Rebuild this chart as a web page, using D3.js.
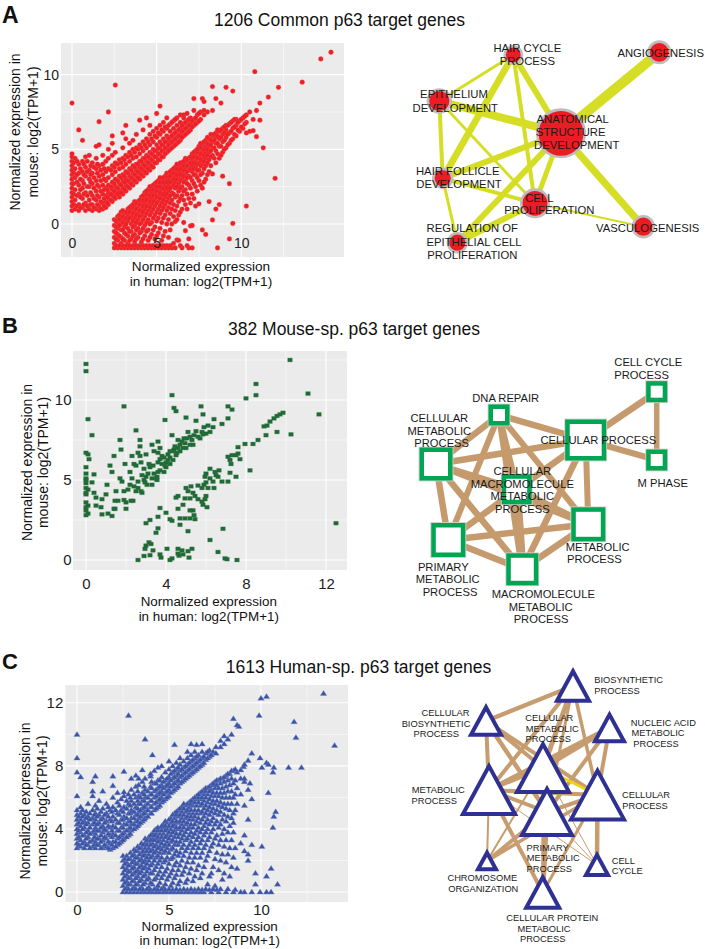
<!DOCTYPE html>
<html><head><meta charset="utf-8">
<script src="https://cdn.jsdelivr.net/npm/d3@7"></script>
<style>html,body{margin:0;padding:0;background:#fff}svg{display:block}</style>
</head><body>
<svg id="fig" width="705" height="949"></svg>
<script>
const FONT = "'Liberation Sans', Arial, Helvetica, sans-serif";

// ---------------- Panel titles ----------------
const panelLetters = ["A", "B", "C"];
const panelTitles = ["1206 Common p63 target genes", "382 Mouse-sp. p63 target genes", "1613 Human-sp. p63 target genes"];
const xTitleLines = ["Normalized expression", "in human: log2(TPM+1)"];
const yTitleLines = ["Normalized expression in", "mouse: log2(TPM+1)"];

// ---------------- Scatter data: [human, mouse values read at that human value...] ----------------
const commonUpper = [
[0, 0.9,1.2,1.5,1.8,2.1,2.4,2.7,3.0,3.3,3.6,3.9,4.2,4.5,4.7,8.1],
[0.18, 1.0,1.6,2.3,3.1,3.7,4.4],
[0.4, 0.9,1.3,2.0,2.6,3.4,4.0,6.3],
[0.62, 1.1,1.7,2.4,2.9,3.5,4.2,5.6],
[0.8, 0.9,1.4,2.1,3.2,3.8,4.5],
[1.02, 1.0,1.6,2.5,3.0,3.6,4.6],
[1.2, 0.9,1.3,1.9,2.7,3.4,4.1],
[1.43, 1.0,1.6,2.2,2.9,3.7,4.4,5.2],
[1.6, 0.9,1.2,1.8,2.5,3.2,3.9,5.3,6.85],
[1.82, 1.0,1.4,2.0,2.6,3.3,4.0,4.6],
[2.0, 1.1,1.5,1.9,2.4,2.9,3.5,4.2],
[2.15, 1.3,1.7,2.1,2.6,3.1,3.7,4.4,5.0,7.5],
[2.38, 1.5,1.9,2.3,2.8,3.3,3.9,4.6,5.4,5.9],
[2.56, 1.7,2.1,2.5,3.0,3.5,4.1,4.8,9.3],
[2.8, 1.8,2.2,2.7,3.2,3.7,4.3],
[3.0, 2.0,2.4,2.9,3.3,3.8,4.4,5.1,6.1],
[3.18, 2.2,2.6,3.0,3.5,4.0,4.6,5.7,6.6],
[3.4, 2.4,2.8,3.2,3.7,4.2,4.8,5.4],
[3.6, 2.6,3.0,3.4,3.9,4.4,5.0,5.6],
[3.8, 2.8,3.2,3.6,4.0,4.5,5.1,6.0],
[4.0, 3.0,3.4,3.8,4.2,4.7,5.3,6.95],
[4.2, 3.2,3.6,4.0,4.4,4.9,5.5,6.3],
[4.4, 3.4,3.8,4.2,4.6,5.1,5.7,7.1],
[4.6, 3.6,4.0,4.4,4.8,5.3,6.0,6.6],
[4.8, 3.8,4.2,4.6,5.0,5.5,6.2],
[5.0, 4.1,4.5,4.9,5.3,5.8,6.4,7.4],
[5.2, 4.3,4.7,5.1,5.5,6.0,6.6,7.9],
[5.4, 4.5,4.9,5.3,5.7,6.2,6.8],
[5.6, 4.8,5.1,5.5,5.9,6.4,7.1],
[5.8, 5.0,5.4,5.8,6.2,6.7],
[6.0, 5.2,5.6,6.0,6.4,6.9],
[6.2, 5.4,5.8,6.2,6.6,7.1],
[6.4, 5.6,6.0,6.4,6.8,7.3],
[6.6, 5.9,6.3,6.7,7.1,7.3],
[6.8, 6.1,6.5,6.9,7.4],
[7.0, 6.3,6.7,7.1],
[7.2, 6.6,7.0,7.6,8.4],
[7.4, 6.8,7.3],
[7.6, 7.0,7.5],
[7.7, 8.4],
[7.8, 7.3,7.6,8.2],
[8.0, 7.5],
[8.3, 7.6,9.2],
[8.5, 8.4],[8.8, 8.1],[9.1, 9.15],[9.5, 8.9]
];
const commonUpperCore = [
[0.1, 1.3,2.0,2.7,3.4,4.1],[0.3, 1.2,1.9,2.8,3.3,4.2],[0.5, 1.1,1.8,2.3,3.0,3.7],[0.7, 1.3,2.0,2.7,3.3,4.0],
[0.9, 1.2,1.9,2.5,3.5,4.2],[1.1, 1.3,2.1,2.8,3.3,3.9],[1.3, 1.1,1.7,2.4,3.1,3.8],[1.5, 1.3,1.9,2.6,3.4,4.0],
[1.7, 1.0,1.5,2.2,2.9,3.6],[1.9, 1.2,1.7,2.3,3.0,3.7],
[2.1, 1.4,1.8,2.3],[2.3, 1.6,2.0,2.5,3.6],[2.5, 1.8,2.2,2.7,3.8],[2.7, 2.0,2.4,2.9,4.0],[2.9, 2.1,2.6,3.1,4.1],
[3.1, 2.3,2.8,3.2,4.3],[3.3, 2.5,2.9,3.4,4.5],[3.5, 2.7,3.1,3.6,4.6],[3.7, 2.9,3.3,3.8,4.8],[3.9, 3.1,3.5,4.0,5.0],
[4.1, 3.3,3.7,4.2,5.1],[4.3, 3.5,3.9,4.4,5.3],[4.5, 3.7,4.1,4.5,5.5],[4.7, 3.9,4.3,4.7,5.7],[4.9, 4.1,4.5,4.9,5.9],
[5.1, 4.3,4.7,5.1,6.1],[5.3, 4.5,4.9,5.3,6.3],[5.5, 4.7,5.1,5.5,6.5],[5.7, 4.9,5.3,5.7,6.6],[5.9, 5.1,5.5,5.9,6.8],
[6.1, 5.3,5.7,6.1,7.0],[6.3, 5.5,5.9,6.3],[6.5, 5.8,6.2,6.6],[6.7, 6.0,6.4,6.8],[6.9, 6.2,6.6,7.0],
[7.1, 6.5,6.9],[7.3, 6.7,7.1],[7.5, 6.9,7.4]
];
const commonLower = [
[2.5, -1.6,-1.3,-0.9,-0.5,-0.1,0.3],
[2.7, -1.6,-1.1,-0.7,-0.3,0.1,0.5],
[2.9, -1.6,-1.3,-0.9,-0.4,0.0,0.4,0.8],
[3.1, -1.6,-1.1,-0.6,-0.2,0.3,0.7],
[3.3, -1.6,-1.3,-0.8,-0.3,0.2,0.6,1.0],
[3.5, -1.6,-1.0,-0.5,0.0,0.5,0.9,1.2],
[3.7, -1.6,-1.2,-0.7,-0.1,0.4,0.8,1.2,1.5],
[3.9, -1.6,-0.9,-0.3,0.3,0.7,1.1,1.5],
[4.1, -1.6,-1.2,-0.5,0.1,0.6,1.0,1.4,1.8],
[4.3, -1.6,-0.8,-0.1,0.5,1.0,1.4,1.8,2.1],
[4.5, -1.6,-1.1,-0.4,0.3,0.9,1.3,1.7,2.0,2.3],
[4.7, -1.6,-0.7,0.1,0.8,1.3,1.7,2.1,2.5],
[4.9, -1.6,-1.0,-0.2,0.6,1.2,1.6,2.0,2.4,2.7],
[5.1, -1.6,-0.6,0.4,1.0,1.5,1.9,2.3,2.6,2.9],
[5.3, -1.6,-1.1,0.1,0.9,1.4,1.9,2.3,2.7,3.0],
[5.5, -1.6,-0.5,0.6,1.3,1.8,2.2,2.6,2.9,3.2],
[5.7, -1.6,-0.9,0.3,1.1,1.7,2.2,2.6,3.0,3.4],
[5.9, -1.6,0.0,1.0,1.6,2.1,2.5,2.9,3.3,3.6],
[6.1, -1.6,0.16,0.9,1.8,2.4,2.8,3.2,3.5,3.8],
[6.2, -1.07],
[6.3, -1.1,0.6,1.5,2.2,2.7,3.1,3.5,3.9],
[6.5, -1.6,1.0,1.9,2.5,3.0,3.4,3.8,4.1],
[6.7, -0.45,1.3,2.3,2.9,3.3,3.7,4.1,4.4],
[6.9, -1.6,-1.0,1.7,2.6,3.2,3.6,4.0,4.4],
[7.0, -0.13],
[7.1, -1.6,-0.1,2.0,2.9,3.5,3.9,4.3,4.7],
[7.3, 1.2,2.5,3.3,3.8,4.2,4.6,4.9],
[7.5, 1.35,2.9,3.6,4.1,4.5,4.9,5.2],
[7.7, -0.4,2.4,3.4,4.0,4.4,4.8,5.3],
[7.9, -0.7,3.0,3.9,4.4,4.8,5.2,5.6],
[8.1, 1.5,3.5,4.3,4.8,5.2,5.7],
[8.3, 0.27,3.35,4.6,5.1,5.5,5.9],
[8.5, 1.0,4.1,4.9,5.4,5.8,6.1],
[8.6, -1.6],
[8.7, 1.3,4.4,5.2,5.7,6.2],
[8.9, 3.2,4.8,5.5,6.0,6.4],
[9.1, 5.1,5.8,6.3,6.6],
[9.3, -1.0,2.7,5.4,6.1,6.7],
[9.5, 0.04,5.7,6.4,6.9],
[9.7, 5.9,6.6,7.0],
[9.9, 6.2,6.9],
[10.1, 6.4,7.1],
[10.3, 1.2,6.1,6.8,7.3],
[10.5, 6.2,7.5],
[10.7, 6.25,7.0],
[10.8, 10.2],
[10.9, 5.85,7.6],
[11.1, 6.95,8.1],
[11.3, 5.1],[11.6, 8.5],[12.0, 3.06],[12.2, 9.15],[13.6, 9.5],[14.7, 11.05],[15.3, 11.5]
];
const commonLowerCore = [
[2.6, -1.45,-1.0,-0.6,-0.2,0.2],[2.8, -1.45,-0.8,-0.1,0.3,0.6],[3.0, -1.45,-1.0,-0.4,0.1,0.5,0.9],[3.2, -1.45,-0.7,0.0,0.4,0.8],
[3.4, -1.45,-1.1,-0.5,0.4,0.8,1.1],[3.6, -1.45,-0.8,-0.2,0.2,0.7,1.1,1.3],[3.8, -1.45,-1.0,-0.4,0.1,0.6,1.0,1.4],
[4.0, -1.45,-0.6,0.0,0.5,0.9,1.3,1.6],[4.2, -1.45,-1.0,-0.3,0.3,0.8,1.2,1.6,1.9],[4.4, -1.45,-0.5,0.1,0.7,1.2,1.6,2.0,2.2],
[4.6, -1.45,-0.9,0.0,0.6,1.1,1.5,1.9,2.3,2.5],[4.8, -1.45,-0.4,0.4,1.0,1.5,1.9,2.3,2.6],[5.0, -1.45,-0.8,0.2,0.8,1.4,1.8,2.2,2.5,2.8],
[5.2, -1.45,-0.3,0.7,1.2,1.7,2.1,2.5,2.8,3.1],[5.4, -1.45,-0.8,0.4,1.1,1.6,2.0,2.4,2.8,3.1],[5.6, -1.45,0.0,0.9,1.5,2.0,2.4,2.8,3.2,3.4],
[5.8, -1.45,-0.4,0.7,1.4,1.9,2.4,2.8,3.2,3.5],[6.0, -1.3,0.5,1.3,2.0,2.6,3.0,3.4,3.7],[6.2, 0.3,1.2,1.9,2.5,3.0,3.3,3.7,4.0],
[6.4, -1.45,0.8,1.7,2.4,2.9,3.3,3.7,4.1],[6.6, 0.1,1.6,2.2,2.8,3.2,3.6,3.9,4.2],[6.8, -1.45,1.0,2.0,2.7,3.1,3.5,3.9,4.3],
[7.0, 1.4,2.4,3.1,3.7,4.1,4.5],[7.2, 1.7,2.7,3.3,3.7,4.1,4.5,4.8],[7.4, 2.2,3.1,3.6,4.0,4.4,4.8,5.0],
[7.6, 2.6,3.3,3.9,4.3,4.7,5.1,5.4],[7.8, 2.8,3.7,4.2,4.6,5.0,5.5],[8.0, 3.3,4.1,4.6,5.0,5.4,5.8],
[8.2, 3.9,4.5,4.9,5.3,5.6,6.0],[8.4, 4.4,5.1,5.6,6.0],[8.6, 4.7,5.4,5.9,6.3],[8.8, 4.6,5.2,5.8,6.3],
[9.0, 5.0,5.6,6.1,6.5],[9.2, 5.3,6.0,6.6],[9.4, 5.6,6.2,6.8],[9.6, 6.0,6.5,7.0],[9.8, 6.3,6.8],[10.0, 6.5,7.0],[10.2, 6.7,7.2]
];

const mouseSp = [
[0,12.25],[0,11.8],[10.2,12.5],[8.5,11.0],[8.5,10.3],[8.0,10.1],[11.1,10.4],[11.65,9.1],[10.25,7.85],[12.5,2.3],
[4.3,10.3],[4.4,9.5],[4.5,9.3],[5.75,9.6],[5.85,9.1],[1.9,9.6],[0.1,8.8],[0.3,7.8],[3.95,8.75],[5.0,8.9],[5.5,8.7],[6.4,8.8],[7.1,9.6],[7.3,9.4],[7.1,8.85],[6.8,8.5],[2.5,8.1],[1.7,7.5],[1.75,6.9],[2.7,7.5],[2.7,7.1],[1.4,6.5],
[0,6.7],[0.1,6.6],[0.15,6.3],[0,5.8],[0,5.4],[0,5.1],[0,5.0],[0,4.8],[0,4.5],[0,4.2],[0,4.1],[0,3.6],[0,3.3],[0,3.1],[0,2.8],[0.1,2.9],[0.1,3.4],[0.1,4.4],
[0.4,5.35],[0.3,4.85],[0.4,4.2],[0.5,3.9],[0.8,3.8],[0.5,3.4],[0.75,3.3],[0.8,2.85],[1.1,2.9],[1.3,2.75],[1.4,3.2],[1.45,3.7],[1.0,4.1],[1.05,4.7],[1.2,5.9],[1.3,5.5],[1.5,4.3],[1.6,3.7],[1.45,3.2],[1.9,3.75],[2.0,3.2],[1.9,4.3],[1.95,6.0],[1.7,5.1],[1.8,4.9],
[2.3,6.5],[2.4,6.0],[2.2,5.5],[2.3,5.1],[2.2,4.7],[2.4,4.6],[2.1,4.4],[2.5,4.3],[2.6,6.7],[2.7,6.5],[2.75,6.1],[2.9,5.7],[2.5,5.9],[2.8,5.3],[2.95,4.85],[2.6,4.5],[2.75,4.3],[2.8,4.2],
[3.0,6.6],[3.3,7.2],[3.6,7.4],[3.4,6.8],[3.6,6.7],[3.7,7.0],[3.15,6.0],[3.35,5.9],[3.1,5.4],[3.3,5.1],[3.05,4.7],[3.3,4.7],[3.5,5.1],[3.6,6.1],[3.7,6.3],[3.8,6.0],[3.6,5.5],[3.7,5.6],[3.95,5.9],[4.0,6.1],[4.1,6.25],[4.2,6.4],[4.2,6.8],[4.35,6.8],[4.45,7.1],[4.55,6.7],[4.7,7.2],[4.8,7.4],[4.9,7.6],[3.4,5.4],[3.55,5.2],[3.55,5.0],[4.3,7.8],[4.6,7.5],
[5.1,8.0],[5.2,7.7],[5.4,7.8],[5.5,8.05],[5.6,7.7],[5.7,7.6],[5.85,7.85],[5.9,8.3],[6.1,8.4],[6.2,8.0],[6.35,8.3],[4.95,7.3],[5.05,7.6],[5.2,7.2],[5.35,7.2],[4.85,7.0],[4.7,6.8],[4.5,6.55],[4.35,6.25],[4.2,6.0],[4.0,5.8],
[2.0,3.6],[2.25,3.7],[2.35,3.7],[3.9,6.4],[4.1,6.6],[4.6,7.0],[5.0,7.0],[3.2,5.8],[3.8,6.5],[4.4,6.9],[5.3,7.5],[5.8,8.0],[6.0,7.9],[3.9,5.5],[2.9,5.0],[3.0,5.2],[2.6,4.9],
[9.85,9.2],[9.7,9.1],[9.55,9.0],[9.4,8.85],[9.2,8.65],[9.05,8.4],[8.9,8.35],[9.55,8.0],[9.0,7.8],[8.6,7.5],[8.35,7.25],[7.95,7.25],[7.6,7.05],[7.6,6.65],[7.7,6.3],[8.2,5.6],
[7.1,6.45],[7.2,6.25],[7.25,6.0],[7.3,6.55],[7.5,6.55],[7.2,5.45],[7.5,5.2],
[6.65,5.6],[6.5,5.3],[6.45,5.5],[6.2,5.7],[6.0,5.4],[5.95,5.2],[6.2,5.1],[6.35,4.9],[6.6,5.2],[6.8,4.9],[7.1,4.9],[6.0,4.85],[5.9,4.7],[6.1,4.5],[6.4,4.5],[5.8,4.5],[5.6,4.65],
[5.0,4.5],[5.1,4.3],[5.25,4.6],[4.95,3.85],[5.2,3.85],[5.35,4.2],[5.45,4.0],[5.6,3.8],[5.8,3.65],[5.95,3.8],[6.0,4.0],[5.85,3.45],[6.05,3.3],
[4.5,3.9],[4.6,4.0],[4.85,3.45],[4.6,3.2],[4.7,2.6],[4.95,2.6],[5.2,2.6],[5.45,2.55],[5.2,3.1],[5.35,3.1],[5.4,2.8],
[3.7,3.25],[4.0,2.95],[3.6,2.7],[3.2,2.5],[3.0,2.3],[3.6,1.98],[3.5,1.7],[4.2,2.55],[4.3,2.45],[4.7,2.2],[5.1,1.8],
[6.85,1.95],[6.2,1.25],
[3.15,1.1],[3.25,1.0],[3.0,0.9],[2.95,0.7],[3.35,0.6],[3.2,0.3],[2.9,0.25],[2.6,0],
[3.7,0.35],[3.75,0.15],[4.05,0.7],[4.2,0],[4.3,0.1],[4.6,0.7],[4.6,0.4],[4.8,0.6],[4.85,0.35],[4.65,0.27],[5.1,0.55],[5.3,0.7],[5.15,0.15],
[6.6,0.5],[6.95,0.1],[7.05,0.05],[7.55,0]
];

const humanUpper = [
[0, 2.8,3.1,3.4,3.7,4.0,4.3,4.6,4.9,5.2,6.1,7.6,8.5,10.0],
[0.2, 2.9,3.3,3.8,4.2,4.6,5.0,5.4,7.3],
[0.4, 2.8,3.2,3.6,4.1,4.5,4.9],
[0.6, 3.0,3.5,3.9,4.4,4.8,5.6],
[0.85, 2.9,3.3,3.8,4.3,4.7,5.2,6.1,6.4,7.0],
[1.0, 2.8,3.2,3.7,4.1,4.6,5.0,5.5,7.35],
[1.2, 3.0,3.4,3.9,4.4,4.9,5.8],
[1.4, 2.8,3.3,3.8,4.2,4.7,5.3,6.4],
[1.6, 2.9,3.4,3.9,4.5,5.0,5.6],
[1.8, 2.7,3.1,3.6,4.1,4.6,5.2],
[1.95, 2.8,3.2,3.7,4.2,4.8,5.4,6.0,6.75,7.35],
[2.2, 3.0,3.4,3.9,4.4,5.0,5.7,6.3],
[2.4, 3.2,3.6,4.1,4.6,5.2,5.9],
[2.55, 3.4,3.8,4.3,4.8,5.4,6.1,6.35,7.65],
[2.8, 3.6,4.0,4.5,5.0,5.6,6.2,11.2],
[2.95, 3.9,4.3,4.7,5.2,5.8,6.5,7.2],
[3.2, 4.1,4.5,4.9,5.4,6.0,6.7,7.4],
[3.35, 4.3,4.7,5.1,5.6,6.1,6.8,7.2],
[3.55, 4.5,4.9,5.3,5.8,6.3,7.0,7.75],
[3.7, 4.7,5.1,5.5,6.0,6.5,7.2,9.7],
[4.0, 5.0,5.4,5.8,6.2,6.7,7.35,7.5],
[4.1, 8.7],
[4.2, 5.2,5.6,6.0,6.4,6.9,7.7],
[4.4, 5.4,5.8,6.2,6.6,7.1,7.9],
[4.6, 5.7,6.0,6.4,6.8,7.3,8.0],
[4.8, 5.9,6.3,6.7,7.1,7.6],
[5.0, 6.1,6.5,6.9,7.3,7.8,8.3],
[5.2, 6.4,6.8,7.2,7.6,8.0],
[5.3, 9.35],
[5.4, 6.6,7.0,7.4,7.8,8.2],
[5.6, 6.9,7.3,7.7,8.1,8.5],
[5.8, 7.1,7.5,7.9,8.3],
[6.0, 7.3,7.7,8.1,8.5,8.9],
[6.2, 7.5,7.9,8.3,8.7,9.4],
[6.4, 7.7,8.1,8.5,8.9],
[6.5, 9.35],
[6.6, 7.9,8.3,8.7],
[6.8, 8.1,8.5,8.9,9.4],
[7.0, 8.4,8.8],
[7.2, 8.6,9.0],
[7.4, 8.9],
[7.55, 8.8,9.2],
[7.8, 9.2,9.6],
[8.0, 9.4,9.9],
[8.2, 9.7],
[8.4, 10.0]
];
const humanUpperCore = [
[0.1, 3.0,3.5,3.9,4.4,4.8],[0.3, 3.1,3.6,4.0,4.4,4.8,5.2],[0.5, 3.0,3.4,3.8,4.3,4.7,5.1],[0.7, 2.8,3.2,3.7,4.1,4.6,5.0],
[0.95, 3.0,3.5,3.9,4.4,4.9],[1.1, 3.0,3.4,3.9,4.3,4.8,5.3],[1.3, 2.8,3.2,3.6,4.1,4.6,5.1],[1.5, 3.0,3.5,4.0,4.4,4.9],
[1.7, 2.8,3.2,3.7,4.2,4.8,5.4],[1.9, 3.0,3.5,3.9,4.5,5.1],[2.1, 2.9,3.2,3.6,4.1,4.6,5.2],[2.3, 3.1,3.5,3.9,4.4,4.9,5.5],
[2.5, 3.3,3.7,4.1,4.6,5.1],[2.7, 3.5,3.9,4.3,4.7,5.3,5.8],[2.9, 3.7,4.1,4.5,5.0,5.5,6.0],[3.1, 4.0,4.3,4.7,5.1,5.6,6.2],
[3.3, 4.2,4.5,4.9,5.3,5.8,6.4],[3.45, 4.4,4.8,5.2,5.6,6.0],[3.65, 4.6,5.0,5.4,5.8,6.2,6.7],[3.85, 4.8,5.2,5.6,6.0,6.4],
[4.05, 5.0,5.4,5.8,6.2,6.6,7.0],[4.3, 5.3,5.7,6.1,6.5,6.9],[4.5, 5.5,5.9,6.3,6.7,7.1],[4.7, 5.8,6.2,6.6,7.0],
[4.9, 6.0,6.4,6.8,7.2],[5.1, 6.3,6.7,7.1,7.5],[5.3, 6.5,6.9,7.3,7.7],[5.5, 6.7,7.1,7.5,7.9],[5.7, 7.0,7.4,7.8],
[5.9, 7.2,7.6,8.0],[6.1, 7.4,7.8,8.2],[6.3, 7.6,8.0,8.4],[6.5, 7.8,8.2,8.6],[6.7, 8.0,8.4],[6.9, 8.2,8.6],[7.1, 8.5,8.9],[7.3, 8.7]
];
const humanLower = [
[2.5, 0,0.4,0.8,1.2,1.6,2.0,2.3],
[2.7, 0,0.3,0.7,1.1,1.5,1.9,2.3],
[2.9, 0,0.5,0.9,1.3,1.7,2.1,2.5],
[3.1, 0,0.3,0.7,1.2,1.6,2.0,2.4,2.7],
[3.3, 0,0.5,1.0,1.4,1.8,2.2,2.6,2.9],
[3.5, 0,0.3,0.8,1.3,1.7,2.1,2.5,2.8,3.1],
[3.7, 0,0.6,1.1,1.6,2.0,2.4,2.8,3.1,3.4],
[3.9, 0,0.3,0.9,1.5,2.0,2.4,2.8,3.2,3.5],
[4.1, 0,0.5,1.2,1.8,2.3,2.7,3.1,3.4,3.7],
[4.3, 0,0.2,0.9,1.6,2.2,2.6,3.0,3.4,3.7,4.0],
[4.5, 0,0.6,1.3,2.0,2.5,2.9,3.3,3.7,4.0],
[4.7, 0,0.3,1.1,1.9,2.5,2.9,3.3,3.7,4.1,4.3],
[4.9, 0,0.8,1.5,2.2,2.8,3.2,3.6,4.0,4.4],
[5.1, 0,0.4,1.2,2.1,2.7,3.2,3.6,4.0,4.4,4.7],
[5.3, 0,0.9,1.7,2.4,3.0,3.5,3.9,4.3,4.7,5.0],
[5.5, 0,0.5,1.4,2.3,3.0,3.5,4.0,4.4,4.8,5.2],
[5.7, 0,1.1,2.0,2.8,3.4,3.9,4.3,4.7,5.1,5.4],
[5.9, 0,0.6,1.6,2.6,3.3,3.8,4.3,4.7,5.1,5.5],
[6.1, 0,1.2,2.2,3.0,3.6,4.1,4.6,5.0,5.4,5.7],
[6.3, 0,0.7,1.9,2.8,3.5,4.1,4.6,5.0,5.5,5.9],
[6.5, 0,1.4,2.5,3.3,3.9,4.5,5.0,5.5,5.9,6.1],
[6.7, 0,0.9,2.2,3.1,3.8,4.4,5.0,5.5,5.9,6.3],
[6.9, 0,1.6,2.8,3.6,4.2,4.8,5.3,5.8,6.2,6.5],
[7.1, 0.5,2.3,3.3,4.0,4.6,5.2,5.7,6.2,6.6],
[7.3, 0,1.2,2.9,3.8,4.5,5.1,5.6,6.1,6.5,6.8],
[7.5, 0.4,2.1,3.4,4.3,5.0,5.6,6.1,6.6,7.0],
[7.7, 0,1.4,3.0,4.1,4.9,5.5,6.1,6.6,7.1],
[7.9, 0.8,2.4,3.7,4.6,5.4,6.0,6.6,7.2],
[8.1, 0,1.9,3.3,4.5,5.3,6.0,6.7,7.4],
[8.3, 1.0,2.8,4.2,5.2,6.0,6.8,7.5],
[8.5, 0,2.2,3.8,4.4,5.0,6.0,6.9,7.7],
[8.7, 1.5,5.6,6.6,7.6],
[8.9, 0,3.1,6.2,7.2,7.75],
[9.05, 7.95],
[9.1, 0,2.6,3.6,5.5,7.0,7.2,8.1],
[9.3, 2.0,2.4,4.6,6.5,8.35],
[9.4, 6.9],
[9.5, 0,3.0,5.9,8.8],
[9.7, 0.5,1.2],
[9.95, 0,8.5],
[10.05, 2.9,7.9],
[10.3, 0,1.0,8.2],
[10.4, 6.3,8.1],
[10.55, 0,1.5],
[10.65, 4.1,7.6],
[10.7, 4.8,7.9],
[10.8, 5.1],
[10.9, 0.5],
[11.5, 7.9],[12.2, 7.9]
];
const humanLowerCore = [
[2.6, 0.2,0.6,1.0,1.4,1.8,2.1],[2.8, 0.2,0.5,0.9,1.3,1.7,2.1],[3.0, 0.2,0.7,1.1,1.5,1.9,2.3],[3.2, 0.2,0.5,0.9,1.3,1.8,2.2,2.6],
[3.4, 0.2,0.7,1.2,1.6,2.0,2.4,2.8],[3.6, 0.15,0.5,1.0,1.5,1.9,2.3,2.6,3.0],[3.8, 0.2,0.8,1.3,1.8,2.2,2.6,3.0,3.3],
[4.0, 0.15,0.6,1.2,1.7,2.2,2.6,3.0,3.3,3.6],[4.2, 0.2,0.8,1.4,2.0,2.5,2.9,3.3,3.6,3.9],[4.4, 0.15,0.4,1.1,1.8,2.3,2.8,3.2,3.5,3.9,4.1],
[4.6, 0.2,0.9,1.6,2.2,2.7,3.1,3.5,3.9,4.2],[4.8, 0.15,0.5,1.3,2.0,2.6,3.0,3.5,3.9,4.2,4.5],[5.0, 0.2,1.0,1.8,2.5,3.0,3.4,3.8,4.2,4.6],
[5.2, 0.15,0.6,1.4,2.2,2.8,3.3,3.8,4.2,4.5,4.9],[5.4, 0.2,1.1,1.9,2.6,3.2,3.7,4.1,4.5,4.9,5.1],[5.6, 0.15,0.7,1.7,2.5,3.2,3.7,4.1,4.5,4.9,5.3],
[5.8, 0.2,1.3,2.3,3.0,3.6,4.1,4.5,4.9,5.3,5.6],[6.0, 0.15,0.8,1.9,2.8,3.4,4.0,4.4,4.8,5.2,5.6],[6.2, 0.2,1.5,2.5,3.2,3.8,4.3,4.8,5.2,5.6,5.8],
[6.4, 0.15,1.0,2.2,3.0,3.7,4.3,4.8,5.2,5.7,6.0],[6.6, 0.2,1.7,2.8,3.5,4.1,4.7,5.2,5.7,6.0,6.2],[6.8, 0.15,1.2,2.5,3.3,4.0,4.6,5.1,5.6,6.0,6.4],
[7.0, 0.2,2.0,3.0,3.8,4.4,5.0,5.5,6.0,6.4,6.6],[7.2, 0.15,1.0,2.6,3.5,4.3,4.9,5.4,5.9,6.4,6.7],[7.4, 0.2,1.6,3.1,4.0,4.7,5.3,5.8,6.3,6.8,6.9],
[7.6, 0.15,2.5,3.6,4.5,5.2,5.8,6.3,6.8,7.1],[7.8, 0.2,2.0,3.3,4.3,5.1,5.7,6.3,6.9,7.2],[8.0, 1.2,2.9,4.0,4.9,5.6,6.3,7.0,7.3],
[8.2, 0.2,2.4,3.8,4.8,5.6,6.4,7.1,7.5],[8.4, 1.6,3.3,4.7,5.6,6.4,7.2,7.7],[8.6, 0.15,2.8,5.2,6.2,7.1,7.8]
];
const humanOutliers = [[13.4,12.6],[10.0,12.3],[10.3,12.4],[9.9,11.2],[8.5,11.0],[8.7,10.6],[8.8,10.5],[11.8,10.8],[11.9,9.8],[14.0,9.3]];

// ---------------- Tick values ----------------
const ticksA = { x: [0, 5, 10], y: [0, 5, 10] };
const ticksB = { x: [0, 4, 8, 12], y: [0, 5, 10] };
const ticksC = { x: [0, 5, 10], y: [0, 4, 8, 12] };

// ---------------- Network data ----------------
const netAIds = ["HC", "AN", "EP", "AS", "HF", "CP", "VA", "RE"];
const netALabels = [["HAIR CYCLE","PROCESS"],["ANGIOGENESIS"],["EPITHELIUM","DEVELOPMENT"],["ANATOMICAL","STRUCTURE","DEVELOPMENT"],["HAIR FOLLICLE","DEVELOPMENT"],["CELL","PROLIFERATION"],["VASCULOGENESIS"],["REGULATION OF","EPITHELIAL CELL","PROLIFERATION"]];
const netASizes = [100, 144, 161, 625, 114, 225, 137, 114];
const netAEdges = [["AN","AS",1.0],["AS","VA",0.72],["EP","AS",0.8],["HC","AS",0.6],["HC","HF",0.68],["HF","AS",0.6],["RE","AS",0.6],["CP","RE",0.6],["AS","CP",0.5],["HC","CP",0.4],["HC","EP",0.3],["EP","HF",0.4],["EP","CP",0.28],["HF","RE",0.3],["HF","CP",0.4],["CP","VA",0.2]];

const netBIds = ["DNA", "CCP", "CEP", "MPH", "CMP", "CMM", "MET", "PRI", "MAC"];
const netBLabels = [["DNA REPAIR"],["CELL CYCLE","PROCESS"],["CELLULAR PROCESS"],["M PHASE"],["CELLULAR","METABOLIC","PROCESS"],["CELLULAR","MACROMOLECULE","METABOLIC","PROCESS"],["METABOLIC","PROCESS"],["PRIMARY","METABOLIC","PROCESS"],["MACROMOLECULE","METABOLIC","PROCESS"]];
const netBSizes = [441, 441, 1681, 441, 1089, 900, 1156, 1156, 1024];
const netBEdges = [["DNA","CEP",0.65],["DNA","CMP",0.65],["DNA","PRI",0.6],["DNA","MAC",0.65],["DNA","MET",0.6],["DNA","CMM",0.65],["CEP","CCP",0.65],["CEP","MPH",0.6],["CCP","MPH",0.55],["CEP","CMP",0.65],["CEP","MET",0.6],["CEP","PRI",0.6],["CEP","MAC",0.65],["CEP","CMM",0.6],["CMP","PRI",0.65],["CMP","MET",0.7],["CMP","MAC",0.65],["CMP","CMM",0.6],["PRI","MET",0.65],["PRI","MAC",0.65],["PRI","CMM",0.6],["MET","MAC",0.65],["MET","CMM",0.6],["MAC","CMM",0.85]];

const netCIds = ["BIO", "CBI", "NUC", "CME", "MET", "PRI", "CEP", "CCY", "CHR", "CPR"];
const netCLabels = [["BIOSYNTHETIC","PROCESS"],["CELLULAR","BIOSYNTHETIC","PROCESS"],["NUCLEIC ACID","METABOLIC","PROCESS"],["CELLULAR","METABOLIC","PROCESS"],["METABOLIC","PROCESS"],["PRIMARY","METABOLIC","PROCESS"],["CELLULAR","PROCESS"],["CELL","CYCLE"],["CHROMOSOME","ORGANIZATION"],["CELLULAR PROTEIN","METABOLIC","PROCESS"]];
const netCSizes = [1296, 1156, 1089, 3136, 3136, 2916, 3249, 676, 484, 1369];
const netCEdges = [["BIO","CBI",0.9],["BIO","MET",0.8],["BIO","CME",1.0],["BIO","CEP",0.7],["BIO","PRI",0.6],["CBI","CME",0.8],["CBI","CEP",0.8],["CBI","MET",0.8],["CBI","PRI",0.9],["NUC","MET",1.0],["NUC","CME",1.0],["NUC","CEP",0.8],["NUC","PRI",0.8],["MET","CHR",0.4],["MET","CPR",0.8],["MET","CCY",0.2],["MET","CEP",0.8],["MET","CME",0.8],["MET","PRI",0.8],["CEP","CCY",0.9],["CEP","CHR",0.7],["CEP","PRI",0.8],["CEP","CPR",0.6],["PRI","CPR",1.0],["CME","CPR",0.6],["CHR","PRI",0.8],["CHR","CME",0.4],["CCY","PRI",0.2],["CCY","CME",0.2]];
const netCHighlight = [["CME","CEP",0.6]];

// ---------------- Layout (positions only) ----------------
const layoutA = {HC:[513.3,55],AN:[659.3,52.3],EP:[439.3,101],AS:[561,133.3],HF:[442.7,178.3],CP:[535,203.3],VA:[643.3,226.7],RE:[457.3,242.7]};
const labelPosA = {HC:[[527.3,52.3],[527.3,65.3]],AN:[[660.7,56.7]],EP:[[454,98.3],[455.3,111.7]],AS:[[572.7,122.7],[570.7,136],[576.7,149.3]],HF:[[457.7,175],[459,188.3]],CP:[[539.3,201.7],[549.3,214.3]],VA:[[647.7,231.7]],RE:[[472.3,232.3],[474,245.7],[472.3,258.5]]};
const layoutB = {DNA:[499,415],CCP:[656.7,391.7],CEP:[585.7,440],MPH:[656.7,460],CMP:[436,464],CMM:[516.7,489.3],MET:[588.3,524.3],PRI:[448.3,540],MAC:[522.3,569.3]};
const labelPosB = {DNA:[[505.7,401.7]],CCP:[[614.3,366,"start"],[614.3,378.5,"start"]],CEP:[[598.3,444]],MPH:[[662.7,486.7]],CMP:[[439.3,422],[439.3,434.5],[441.7,447]],CMM:[[522.3,475],[522.3,487.5],[522.3,500],[522.3,512.5]],MET:[[597.7,550.5],[594.3,563]],PRI:[[443.3,570.5],[447.7,583],[450,595.5]],MAC:[[543.3,598],[540.7,610.5],[541,623]]};
const layoutC = {BIO:[573,686],CBI:[486,721],NUC:[609.5,728],CME:[543,768],MET:[489,790],PRI:[547,812],CEP:[597.5,795],CCY:[597,865],CHR:[487,861],CPR:[542.7,892.5]};
const labelPosC = {BIO:[[594.3,682.5,"start"],[594.3,693.5,"start"]],CBI:[[445.5,716],[436,726.5],[436.3,737]],NUC:[[663.3,725.5],[658,736],[656,746.5]],CME:[[549.3,721],[552.3,731.5],[548.3,742]],MET:[[438.3,793],[434.3,803.5]],PRI:[[547.7,850.5],[553.3,861],[549.3,871.5]],CEP:[[646,798],[645,808.5]],CCY:[[611.7,863.5,"start"],[611.7,874,"start"]],CHR:[[482.3,881.3],[483.3,891.8]],CPR:[[552.3,921.3],[544,931.8],[542.7,942.3]]};
const drawOrderC = ["CHR","CCY","CPR","BIO","CBI","NUC","MET","CME","CEP","PRI"];

// ---------------- Drawing ----------------
const svg = d3.select("#fig");
svg.append("rect").attr("width", 705).attr("height", 949).attr("fill", "#fff");

const headers = [{lx: 2, ly: 23, lsize: 23, tx: 339.5, ty: 25.5}, {lx: 2, ly: 333, lsize: 22, tx: 354, ty: 335}, {lx: 2, ly: 669, lsize: 22, tx: 358.5, ty: 673}];
headers.forEach((h, i) => {
  svg.append("text").attr("x", h.lx).attr("y", h.ly).attr("font-family", FONT).attr("font-weight", "bold")
    .attr("font-size", h.lsize).attr("fill", "#111").text(panelLetters[i]);
  svg.append("text").attr("x", h.tx).attr("y", h.ty).attr("text-anchor", "middle").attr("font-family", FONT)
    .attr("font-size", 17.5).attr("fill", "#111").text(panelTitles[i]);
});

function scatter(c) {
  const x = d3.scaleLinear().domain(c.xDomain).range(c.xRange);
  const y = d3.scaleLinear().domain(c.yDomain).range(c.yRange);
  const g = svg.append("g");
  const [xl, xr] = x.range(), [yb, yt] = y.range();
  g.append("rect").attr("x", xl).attr("y", yt).attr("width", xr - xl).attr("height", yb - yt).attr("fill", "#EBEBEB");
  const grid = (vals, vertical, w) => g.append("g").selectAll("line").data(vals).join("line")
    .attr("x1", d => vertical ? x(d) : xl).attr("x2", d => vertical ? x(d) : xr)
    .attr("y1", d => vertical ? yb : y(d)).attr("y2", d => vertical ? yt : y(d))
    .attr("stroke", "#fff").attr("stroke-width", w);
  grid(c.xMinor, true, 0.55); grid(c.yMinor, false, 0.55);
  grid(c.ticks.x, true, 1.1); grid(c.ticks.y, false, 1.1);
  const pts = c.cols.flatMap(([h, ...ms]) => ms.map(m => [h, m]));
  g.append("g").selectAll("path").data(pts).join("path")
    .attr("transform", d => `translate(${x(d[0]).toFixed(2)},${y(d[1]).toFixed(2)})`)
    .attr("d", c.shape).attr("fill", c.color).attr("stroke", c.halo).attr("stroke-width", 0.7);
  const ax = g.append("g").attr("transform", `translate(0,${c.xAxisY})`)
    .call(d3.axisBottom(x).tickValues(c.ticks.x).tickSize(0).tickPadding(c.xPad));
  const ay = g.append("g").attr("transform", `translate(${xl},0)`)
    .call(d3.axisLeft(y).tickValues(c.ticks.y).tickSize(0).tickPadding(c.yPad));
  [ax, ay].forEach(a => {
    a.select(".domain").remove();
    a.selectAll("text").attr("font-size", c.tickFont).attr("font-family", FONT).attr("fill", "#222");
  });
  xTitleLines.forEach((t, i) => g.append("text").attr("x", c.xTitleX).attr("y", c.xTitleY[i])
    .attr("text-anchor", "middle").attr("font-family", FONT).attr("font-size", c.titleFont).attr("fill", "#111").text(t));
  yTitleLines.forEach((t, i) => g.append("text")
    .attr("transform", `translate(${c.yTitleX[i]},${c.yTitleCY}) rotate(-90)`)
    .attr("text-anchor", "middle").attr("font-family", FONT).attr("font-size", 14).attr("fill", "#111").text(t));
}

scatter({
  cols: commonUpper.concat(commonUpperCore, commonLower, commonLowerCore), ticks: ticksA,
  xDomain: [-0.65, 16.07], xRange: [61, 344], yDomain: [-2.21, 12.12], yRange: [257, 43],
  xMinor: [2.5, 7.5, 12.5], yMinor: [2.5, 7.5],
  shape: d3.symbol(d3.symbolCircle, 18)(), color: "#EE1F26", halo: "rgba(240,80,80,0.45)",
  xAxisY: 238, xPad: 0, yPad: 2, tickFont: 14, titleFont: 13.6,
  xTitleX: 201, xTitleY: [270.5, 285.5], yTitleX: [20, 38], yTitleCY: 132
});
scatter({
  cols: mouseSp, ticks: ticksB,
  xDomain: [-0.65, 13.05], xRange: [73, 347], yDomain: [-0.625, 13.06], yRange: [570, 351],
  xMinor: [2, 6, 10], yMinor: [2.5, 7.5, 12.5],
  shape: "M-2.3,-1.9h4.6v3.8h-4.6Z", color: "#1E6B35", halo: "rgba(60,120,80,0.4)",
  xAxisY: 570, xPad: 8, yPad: 1.5, tickFont: 15, titleFont: 13.4,
  xTitleX: 208.8, xTitleY: [605.8, 620.8], yTitleX: [31.5, 47.5], yTitleCY: 462.5
});
scatter({
  cols: humanUpper.concat(humanUpperCore, humanLower, humanLowerCore, humanOutliers), ticks: ticksC,
  xDomain: [-0.636, 14.73], xRange: [65.3, 348], yDomain: [-0.634, 13.13], yRange: [902, 685],
  xMinor: [2.5, 7.5, 12.5], yMinor: [2, 6, 10],
  shape: "M0,-2.9L3.2,2.1L-3.2,2.1Z", color: "#3B53A4", halo: "rgba(120,140,200,0.5)",
  xAxisY: 902, xPad: 2.5, yPad: 2, tickFont: 15, titleFont: 13.4,
  xTitleX: 209.7, xTitleY: [931, 944.5], yTitleX: [29.5, 46.5], yTitleCY: 801
});

function network(c) {
  const g = svg.append("g");
  const P = c.layout;
  const wScale = d3.scaleLinear().domain([0, 1]).range([0, c.maxEdge]);
  const sScale = d3.scaleSqrt().domain([0, d3.max(c.sizes)]).range([0, c.maxSize]);
  const edges = c.edges.map(e => ({e, hi: false})).concat((c.highlight || []).map(e => ({e, hi: true})));
  g.append("g").selectAll("line").data(edges).join("line")
    .attr("x1", d => P[d.e[0]][0]).attr("y1", d => P[d.e[0]][1])
    .attr("x2", d => P[d.e[1]][0]).attr("y2", d => P[d.e[1]][1])
    .attr("stroke", d => d.hi ? c.hiColor : c.edgeColor).attr("stroke-width", d => wScale(d.e[2]));
  const order = c.order || c.ids;
  const ng = g.append("g");
  order.forEach(id => {
    const i = c.ids.indexOf(id);
    c.drawNode(ng, P[id], sScale(c.sizes[i]));
  });
  const tg = g.append("g");
  c.ids.forEach((id, i) => {
    c.labels[i].forEach((line, j) => {
      const p = c.labelPos[id][j];
      tg.append("text").attr("x", p[0]).attr("y", p[1]).attr("text-anchor", p[2] || "middle")
        .attr("font-family", FONT).attr("font-size", c.labelFont).attr("fill", "#1a1a1a").text(line);
    });
  });
}

network({
  ids: netAIds, labels: netALabels, sizes: netASizes, edges: netAEdges, layout: layoutA, labelPos: labelPosA,
  maxEdge: 10, maxSize: 25, edgeColor: "#D5DE24", labelFont: 11.3,
  drawNode: (g, p, R) => g.append("circle").attr("cx", p[0]).attr("cy", p[1]).attr("r", R - 1.3)
    .attr("fill", "#ED1C24").attr("stroke", "#BDBDBD").attr("stroke-width", 2.6)
});

network({
  ids: netBIds, labels: netBLabels, sizes: netBSizes, edges: netBEdges, layout: layoutB, labelPos: labelPosB,
  maxEdge: 10, maxSize: 41, edgeColor: "#C59B6D", labelFont: 11.2,
  drawNode: (g, p, S) => {
    const s = S - 4.5;
    g.append("rect").attr("x", p[0] - s / 2).attr("y", p[1] - s / 2).attr("width", s).attr("height", s)
      .attr("fill", "none").attr("stroke", "#CFCFCF").attr("stroke-width", 6.3);
    g.append("rect").attr("x", p[0] - s / 2).attr("y", p[1] - s / 2).attr("width", s).attr("height", s)
      .attr("fill", "#fff").attr("stroke", "#00A651").attr("stroke-width", 4.5);
  }
});

network({
  ids: netCIds, labels: netCLabels, sizes: netCSizes, edges: netCEdges, highlight: netCHighlight,
  layout: layoutC, labelPos: labelPosC, order: drawOrderC,
  maxEdge: 5, maxSize: 57, edgeColor: "#C79D6F", hiColor: "#F2D20E", labelFont: 9.3,
  drawNode: (g, p, W) => {
    const w = W - 4, h = 0.92 * w;
    g.append("path").attr("d", `M${p[0]},${p[1] - h / 2}L${p[0] + w / 2},${p[1] + h / 2}L${p[0] - w / 2},${p[1] + h / 2}Z`)
      .attr("fill", "#fff").attr("stroke", "#2E3192").attr("stroke-width", 4).attr("stroke-linejoin", "miter");
  }
});
</script>
</body></html>
